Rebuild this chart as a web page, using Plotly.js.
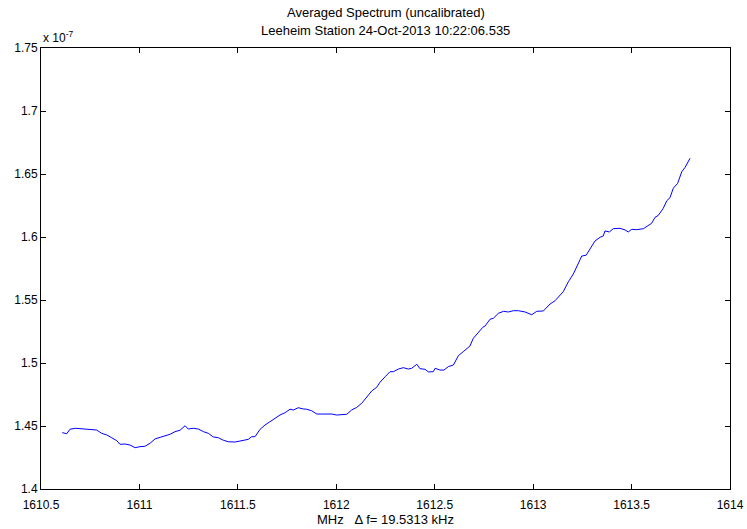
<!DOCTYPE html>
<html>
<head>
<meta charset="utf-8">
<script src="https://cdn.plot.ly/plotly-3.0.1.min.js"></script>
<style>html,body{margin:0;padding:0;background:#fff;}#chart{width:747px;height:529px;}</style>
</head>
<body>
<div id="chart"></div>
<script>
// Frequency (MHz)
const freqMHz = [
1610.608,1610.631,1610.647,1610.673,1610.698,1610.740,1610.783,1610.808,1610.834,1610.859,
1610.885,1610.901,1610.927,1610.952,1610.978,1611.003,1611.028,1611.054,1611.079,1611.105,
1611.130,1611.155,1611.181,1611.206,1611.232,1611.248,1611.274,1611.299,1611.325,1611.350,
1611.375,1611.401,1611.426,1611.452,1611.486,1611.511,1611.536,1611.553,1611.570,1611.587,
1611.613,1611.638,1611.663,1611.689,1611.714,1611.740,1611.765,1611.782,1611.807,1611.833,
1611.850,1611.875,1611.901,1611.926,1611.977,1612.002,1612.053,1612.078,1612.104,1612.129,
1612.155,1612.180,1612.205,1612.222,1612.248,1612.273,1612.290,1612.315,1612.341,1612.366,
1612.383,1612.409,1612.425,1612.451,1612.468,1612.493,1612.502,1612.527,1612.547,1612.569,
1612.595,1612.620,1612.645,1612.679,1612.696,1612.722,1612.744,1612.756,1612.781,1612.798,
1612.823,1612.849,1612.874,1612.899,1612.925,1612.959,1612.993,1613.018,1613.052,1613.086,
1613.111,1613.153,1613.179,1613.204,1613.221,1613.247,1613.269,1613.289,1613.314,1613.340,
1613.356,1613.365,1613.387,1613.407,1613.441,1613.467,1613.483,1613.501,1613.526,1613.560,
1613.585,1613.602,1613.619,1613.636,1613.661,1613.679,1613.695,1613.712,1613.734,1613.755,
1613.772,1613.797
];
// Averaged power (units of 1e-7)
const power = [
1.4447,1.4439,1.4474,1.4482,1.4479,1.4474,1.4468,1.4442,1.4429,1.4407,
1.4383,1.4355,1.4357,1.4349,1.4328,1.4336,1.4339,1.4363,1.4397,1.4410,
1.4421,1.4434,1.4455,1.4466,1.4502,1.4476,1.4482,1.4476,1.4455,1.4442,
1.4413,1.4407,1.4387,1.4375,1.4373,1.4383,1.4391,1.4394,1.4415,1.4415,
1.4474,1.4508,1.4534,1.4561,1.4587,1.4606,1.4633,1.4627,1.4645,1.4635,
1.4633,1.4621,1.4595,1.4595,1.4595,1.4587,1.4593,1.4627,1.4648,1.4680,
1.4728,1.4778,1.4807,1.4847,1.4891,1.4931,1.4931,1.4952,1.4963,1.4952,
1.4958,1.4990,1.4955,1.4950,1.4929,1.4931,1.4958,1.4944,1.4944,1.4971,
1.4984,1.5058,1.5090,1.5135,1.5196,1.5240,1.5283,1.5294,1.5347,1.5355,
1.5394,1.5410,1.5405,1.5415,1.5415,1.5405,1.5383,1.5410,1.5413,1.5468,
1.5494,1.5566,1.5645,1.5706,1.5764,1.5849,1.5855,1.5910,1.5968,1.5998,
1.6008,1.6048,1.6040,1.6066,1.6069,1.6056,1.6040,1.6061,1.6058,1.6066,
1.6095,1.6109,1.6156,1.6172,1.6228,1.6288,1.6312,1.6387,1.6426,1.6518,
1.6553,1.6625
];
const xTickVals = [1610.5,1611,1611.5,1612,1612.5,1613,1613.5,1614];
const xTickText = ['1610.5','1611','1611.5','1612','1612.5','1613','1613.5','1614'];
const yTickVals = [1.4,1.45,1.5,1.55,1.6,1.65,1.7,1.75];
const yTickText = ['1.4','1.45','1.5','1.55','1.6','1.65','1.7','1.75'];
const titleLines = ['Averaged Spectrum (uncalibrated)', 'Leeheim Station 24-Oct-2013 10:22:06.535'];
const xLabel = 'MHz\u00a0\u00a0\u00a0\u0394 f= 19.5313 kHz';
const yExponent = 'x 10<sup>-7</sup>';

const fam = 'Liberation Sans, Arial, sans-serif';
const tickFont = {family: fam, size: 12, color: '#000'};
const textFont = {family: fam, size: 13, color: '#000'};

const trace = {
  x: freqMHz, y: power, type: 'scatter', mode: 'lines',
  line: {color: '#0000ff', width: 1}, hoverinfo: 'skip'
};

const layout = {
  width: 747, height: 529,
  margin: {l: 41, r: 17, t: 48, b: 40},
  paper_bgcolor: '#fff', plot_bgcolor: '#fff',
  showlegend: false,
  font: tickFont,
  xaxis: {
    range: [1610.5, 1614], tickvals: xTickVals, ticktext: xTickText,
    showgrid: false, zeroline: false, showline: true, linecolor: '#000', linewidth: 1,
    mirror: 'ticks', ticks: 'inside', ticklen: 5, tickcolor: '#000', tickwidth: 1,
    tickfont: tickFont, ticklabelstandoff: 5
  },
  yaxis: {
    range: [1.4, 1.75], tickvals: yTickVals, ticktext: yTickText,
    showgrid: false, zeroline: false, showline: true, linecolor: '#000', linewidth: 1,
    mirror: 'ticks', ticks: 'inside', ticklen: 5, tickcolor: '#000', tickwidth: 1,
    tickfont: tickFont
  },
  annotations: [
    {text: titleLines[0], xref: 'paper', yref: 'paper', x: 0.5, y: 1, xanchor: 'center', yanchor: 'middle', yshift: 36, showarrow: false, font: textFont},
    {text: titleLines[1], xref: 'paper', yref: 'paper', x: 0.5, y: 1, xanchor: 'center', yanchor: 'middle', yshift: 18, showarrow: false, font: textFont},
    {text: xLabel, xref: 'paper', yref: 'paper', x: 0.5, y: 0, xanchor: 'center', yanchor: 'middle', yshift: -30, showarrow: false, font: textFont},
    {text: yExponent, xref: 'paper', yref: 'paper', x: 0, y: 1, xanchor: 'left', yanchor: 'bottom', showarrow: false, font: tickFont, yshift: 1}
  ]
};

Plotly.newPlot('chart', [trace], layout, {displayModeBar: false, staticPlot: true});
</script>
</body>
</html>
